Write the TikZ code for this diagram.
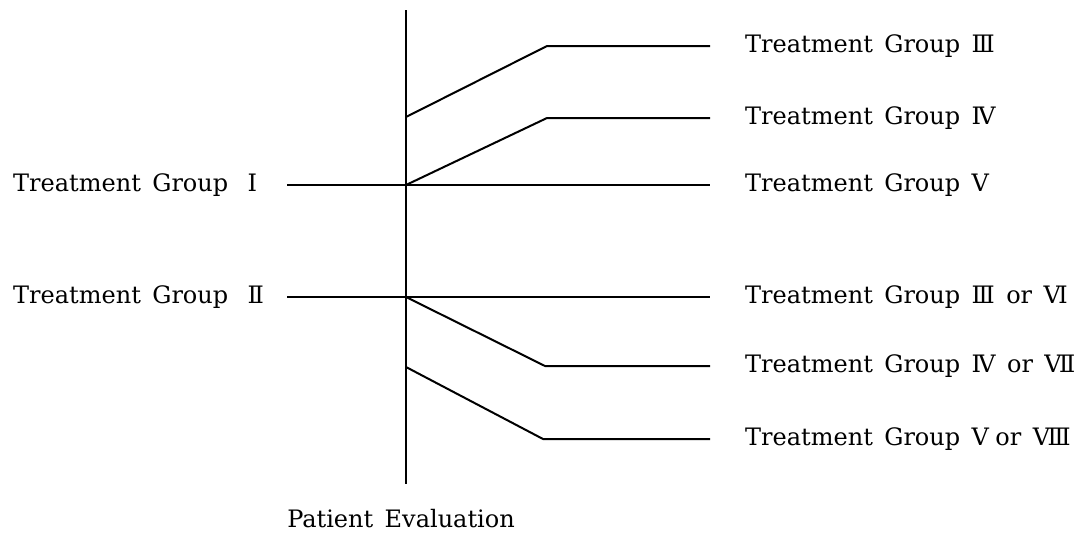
\documentclass[tikz,border=0pt]{standalone}
\usepackage{fontspec}
\setmainfont{DejaVu Serif}[WordSpace=1.5]
\usetikzlibrary{positioning}
\tikzset{
    branch/.style={line width=2pt},
    grouplabel/.style={font=\fontsize{24}{28}\selectfont, inner sep=0pt}
}

\begin{document}
\begin{tikzpicture}[x=1pt,y=-1pt]
\useasboundingbox (0,0) rectangle (1085,538);
% evaluation axis
\coordinate (top) at (406,10);
\coordinate (bot) at (406,484);
\node[grouplabel] (eval) at (401,519) {Patient Evaluation};

% start and branch points
\coordinate (l1) at (287,185);
\coordinate (l2) at (287,297);
\coordinate (j1) at (406,185);
\coordinate (j2) at (406,297);
\coordinate (s3) at (406,117);
\coordinate (s8) at (406,367);

\coordinate (b3) at (547,46);
\coordinate (b4) at (547,118);
\coordinate (b7) at (545,366);
\coordinate (b8) at (543,439);

\coordinate (e3) at (710,46);
\coordinate (e4) at (710,118);
\coordinate (e5) at (710,185);
\coordinate (e6) at (710,297);
\coordinate (e7) at (710,366);
\coordinate (e8) at (710,439);

\node[grouplabel, anchor=west] (g1) at (13,185) {Treatment Group \hspace{8pt}Ⅰ};
\node[grouplabel, anchor=west] (g2) at (13,297) {Treatment Group \hspace{8pt}Ⅱ};

\node[grouplabel, right=35pt of e3] (g3) {Treatment Group Ⅲ};
\node[grouplabel, right=35pt of e4] (g4) {Treatment Group Ⅳ};
\node[grouplabel, right=35pt of e5] (g5) {Treatment Group Ⅴ};
\node[grouplabel, right=35pt of e6] (g6) {Treatment Group Ⅲ or Ⅵ};
\node[grouplabel, right=35pt of e7] (g7) {Treatment Group Ⅳ or Ⅶ};
\node[grouplabel, right=35pt of e8] (g8) {Treatment Group Ⅴ\hspace{-5pt} or Ⅷ};

\draw[branch] (top) -- (bot);

\draw[branch] (l1) -- (e5);
\draw[branch] (l2) -- (e6);

\draw[branch] (s3) -- (b3) -- (e3);
\draw[branch] (j1) -- (b4) -- (e4);
\draw[branch] (j2) -- (b7) -- (e7);
\draw[branch] (s8) -- (b8) -- (e8);

\end{tikzpicture}
\end{document}
